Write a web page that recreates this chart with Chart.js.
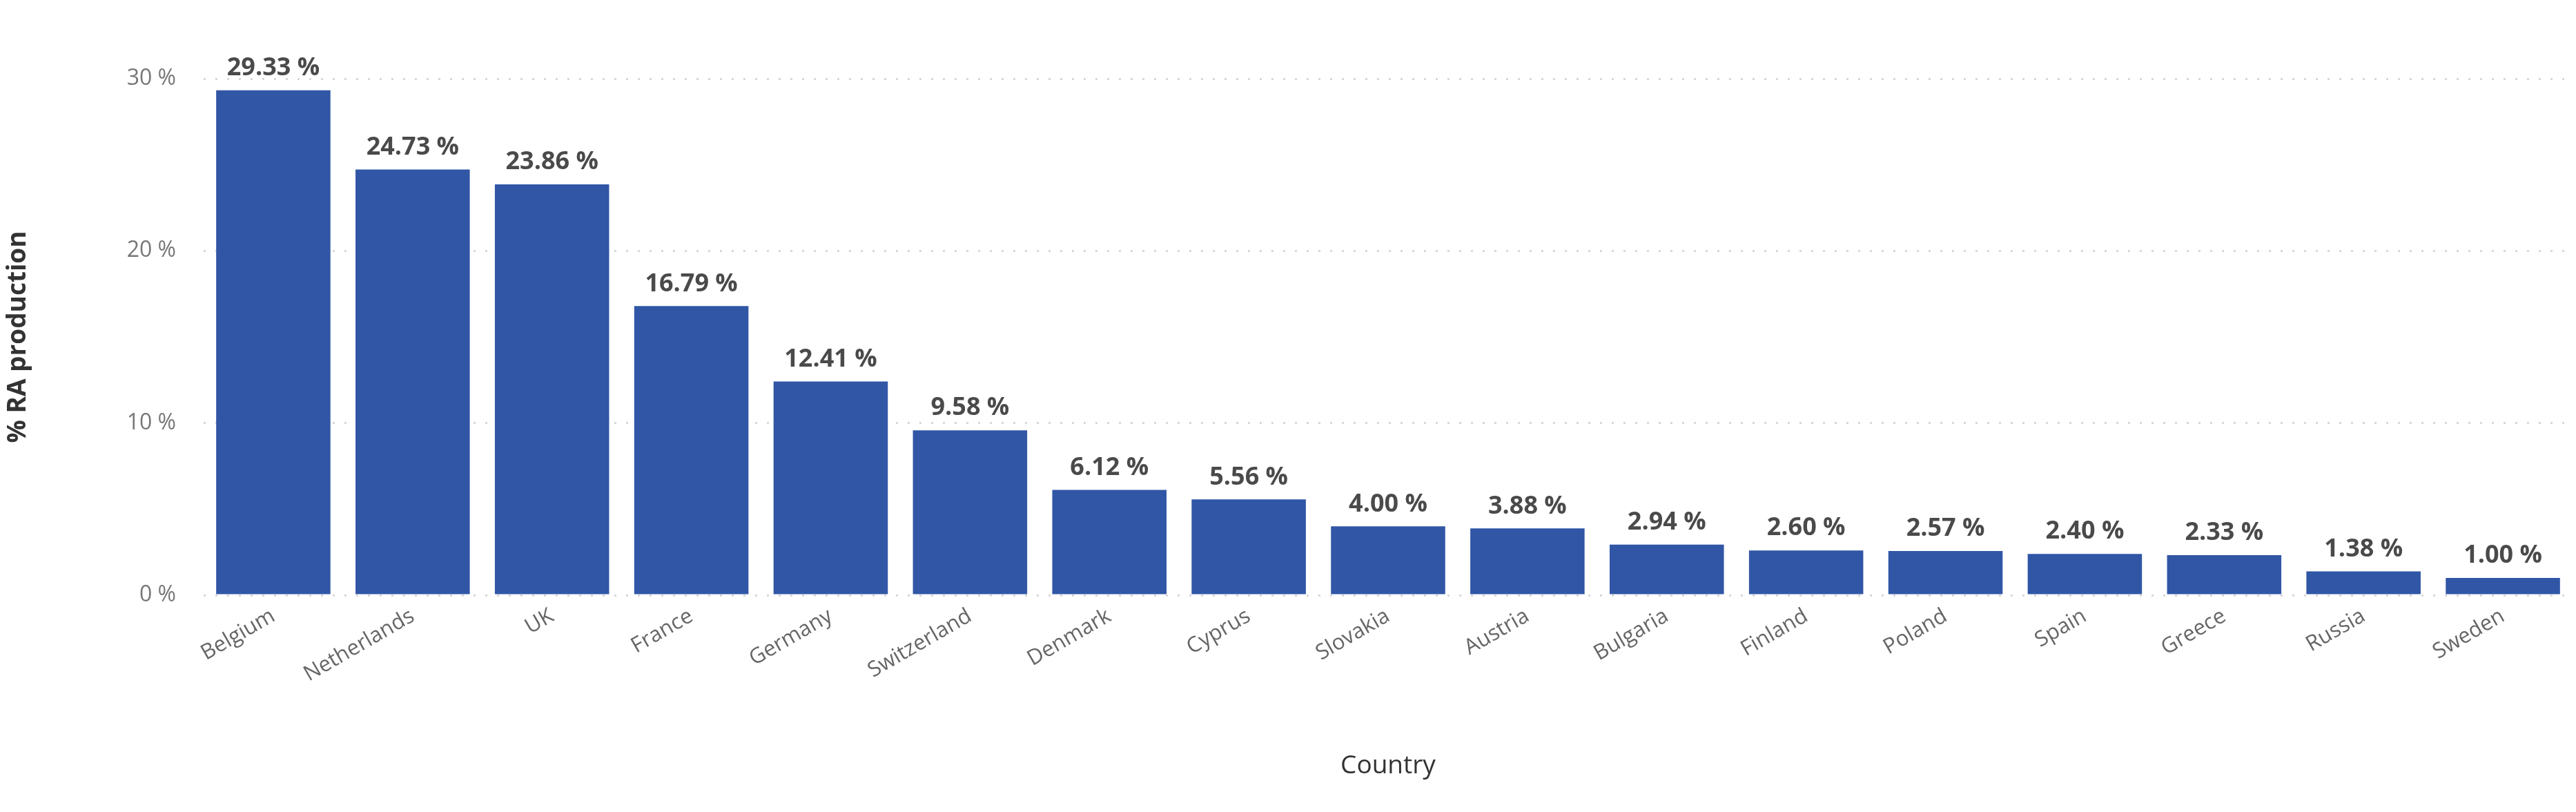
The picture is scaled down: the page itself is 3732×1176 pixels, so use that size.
<!DOCTYPE html>
<html><head><meta charset="utf-8">
<script src="https://cdn.jsdelivr.net/npm/chart.js@4"></script>
<style>html,body{margin:0;padding:0;background:#fff}#w{width:3732px;height:1176px}</style>
</head><body><div id="w"><canvas id="c" width="3732" height="1176"></canvas></div>
<script>
const categories = ["Belgium","Netherlands","UK","France","Germany","Switzerland","Denmark","Cyprus","Slovakia","Austria","Bulgaria","Finland","Poland","Spain","Greece","Russia","Sweden"];
const values = [29.33,24.73,23.86,16.79,12.41,9.58,6.12,5.56,4.00,3.88,2.94,2.60,2.57,2.40,2.33,1.38,1.00];
const yTicks = [0,10,20,30];
const FONT = "'Open Sans', 'DejaVu Sans', sans-serif";
const labelPlugin = {
  id:'vals',
  afterDatasetsDraw(chart){
    const ctx = chart.ctx, meta = chart.getDatasetMeta(0);
    ctx.save();
    ctx.font = "bold 36px " + FONT;
    ctx.fillStyle = "#4a4a4a";
    ctx.textAlign = "center"; ctx.textBaseline = "bottom";
    meta.data.forEach((b,i)=>{ ctx.fillText(values[i].toFixed(2)+" %", b.x, b.y-14); });
    ctx.restore();
  }
};
new Chart(document.getElementById('c'),{
  type:'bar',
  data:{labels:categories,datasets:[{data:values,backgroundColor:'#3156A6',categoryPercentage:1,barPercentage:0.82}]},
  options:{
    responsive:false,animation:false,
    layout:{padding:{top:114,right:5,left:0,bottom:0}},
    plugins:{legend:{display:false},tooltip:{enabled:false}},
    scales:{
      x:{
        grid:{display:false},border:{display:false},
        ticks:{maxRotation:30,minRotation:30,color:'#666',font:{family:FONT,size:31},padding:4},
        title:{display:true,text:'Country',color:'#333',font:{family:FONT,size:37},padding:{top:10,bottom:44}},
        afterFit(s){s.height=314;}
      },
      y:{
        min:0,max:30,
        afterBuildTicks(s){s.ticks=yTicks.map(v=>({value:v}));},
        grid:{color:'#d8d8d8',lineWidth:3,tickLength:0},
        border:{display:false,dash:[3,14]},
        ticks:{color:'#777',font:{family:FONT,size:32},padding:40,callback:v=>v+' %'},
        title:{display:true,text:'% RA production',color:'#333',font:{family:FONT,size:37,weight:'bold'},padding:{bottom:10}},
        afterFit(s){s.width=295;}
      }
    }
  },
  plugins:[labelPlugin]
});
</script></body></html>
